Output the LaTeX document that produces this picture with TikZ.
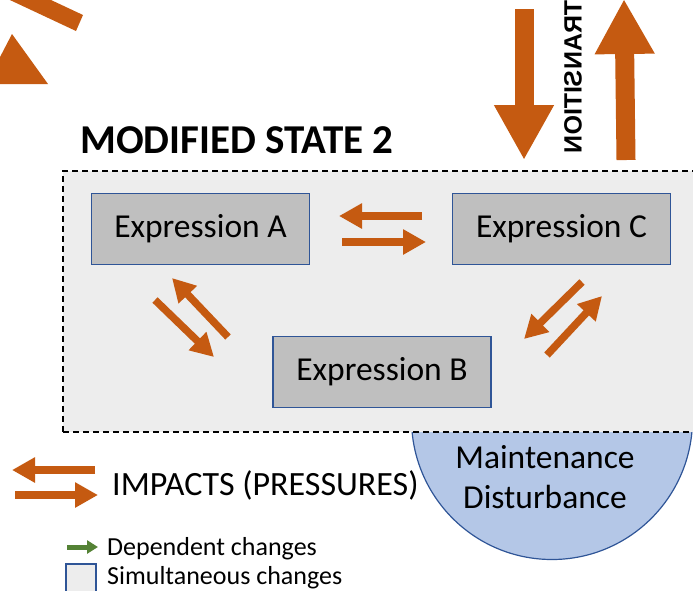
\documentclass[tikz,border=0pt]{standalone}
\usepackage{fontspec}
\setmainfont{Carlito}
\newfontfamily\transfont{Liberation Sans}
\usetikzlibrary{positioning,arrows.meta}
\definecolor{impact}{HTML}{C55A11}
\definecolor{boxgray}{HTML}{BFBFBF}
\definecolor{boxblue}{HTML}{2F5597}
\definecolor{stategray}{HTML}{EDEDED}
\definecolor{maintblue}{HTML}{B4C7E7}
\definecolor{depgreen}{HTML}{548235}
\begin{document}
\begin{tikzpicture}[
  x=1pt, y=-1pt,
  expr/.style={draw=boxblue, line width=1.5pt, fill=boxgray, minimum width=218pt, minimum height=71pt, font=\fontsize{33.5}{40}\selectfont},
  impactarrow/.style={draw=impact, line width=7.5pt, -{Triangle[length=23pt,width=24pt]}},
  transarrow/.style={draw=impact, line width=19pt, -{Triangle[length=55pt,width=56pt]}},
  legtext/.style={anchor=base west, inner sep=0pt, font=\fontsize{26}{30}\selectfont}
]
\useasboundingbox (0,0) rectangle (693,590);
\clip (0,0) rectangle (693,590);
\fill[impact] (3.5,-3) -- (10.5,-19) -- (83,15) -- (76,31) -- cycle;
\fill[impact] (12,34) -- (48,84) -- (-14,84) -- cycle;
\node[fill=maintblue, draw=boxblue, line width=1.2pt, circle, minimum size=281pt, inner sep=0pt] (maint) at (552,419) {};
\node[fill=stategray, draw=black, line width=1.3pt, dash pattern=on 6pt off 4pt, minimum width=637pt, minimum height=261pt, inner sep=0pt] (state) at (381.5,301.5) {};
\node[anchor=base west, inner sep=0pt, font=\bfseries\fontsize{41}{46}\selectfont] (title) at (80,153) {MODIFIED STATE 2};
\node[expr] (exprA) at (200.5,229) {\raisebox{-2pt}{Expression A}};
\node[expr] (exprC) at (561.5,229) {\raisebox{-2pt}{Expression C}};
\node[expr] (exprB) at (382,372) {\raisebox{-2pt}{Expression B}};
\node[align=center, font=\fontsize{33.5}{40}\selectfont] (mainttext) at (545,477) {Maintenance\\Disturbance};
\node[rotate=-90, inner sep=0pt, font=\transfont\bfseries\fontsize{25}{30}\selectfont] (transition) at (573,77) {\scalebox{1}[-1]{TRANSITION}};
\coordinate (downtop) at (524,9);
\coordinate (downtip) at (524,160);
\coordinate (upbottom) at (626,160);
\coordinate (uptip) at (624,-1);
\draw[transarrow] (downtop) -- (downtip);
\draw[transarrow] (upbottom) -- (uptip);
\coordinate (ca1) at (422,216); \coordinate (ca2) at (339,216);
\coordinate (ac1) at (342,242); \coordinate (ac2) at (426,242);
\coordinate (ba1) at (228,337); \coordinate (ba2) at (172,278);
\coordinate (ab1) at (155,300); \coordinate (ab2) at (214,357);
\coordinate (cb1) at (582,282); \coordinate (cb2) at (524,339);
\coordinate (bc1) at (547,355); \coordinate (bc2) at (602,296);
\draw[impactarrow] (ca1) -- (ca2);
\draw[impactarrow] (ac1) -- (ac2);
\draw[impactarrow] (ba1) -- (ba2);
\draw[impactarrow] (ab1) -- (ab2);
\draw[impactarrow] (cb1) -- (cb2);
\draw[impactarrow] (bc1) -- (bc2);
\coordinate (leg1) at (95,470); \coordinate (leg2) at (12,470);
\coordinate (leg3) at (15,495); \coordinate (leg4) at (98,495);
\draw[impactarrow] (leg1) -- (leg2);
\draw[impactarrow] (leg3) -- (leg4);
\node[legtext, font=\fontsize{34}{40}\selectfont] (impacts) at (112,495) {IMPACTS (PRESSURES)};
\coordinate (dep1) at (67,547); \coordinate (dep2) at (98,547);
\draw[draw=depgreen, line width=5pt, -{Triangle[length=11pt,width=13pt]}] (dep1) -- (dep2);
\node[legtext] (dependent) at (107,555) {Dependent changes};
\node[draw=boxblue, line width=1.5pt, fill=stategray, minimum width=30pt, minimum height=40pt, inner sep=0pt, anchor=north west] (simbox) at (65,563) {};
\node[legtext] (simultaneous) at (107,584) {Simultaneous changes};
\end{tikzpicture}
\end{document}
